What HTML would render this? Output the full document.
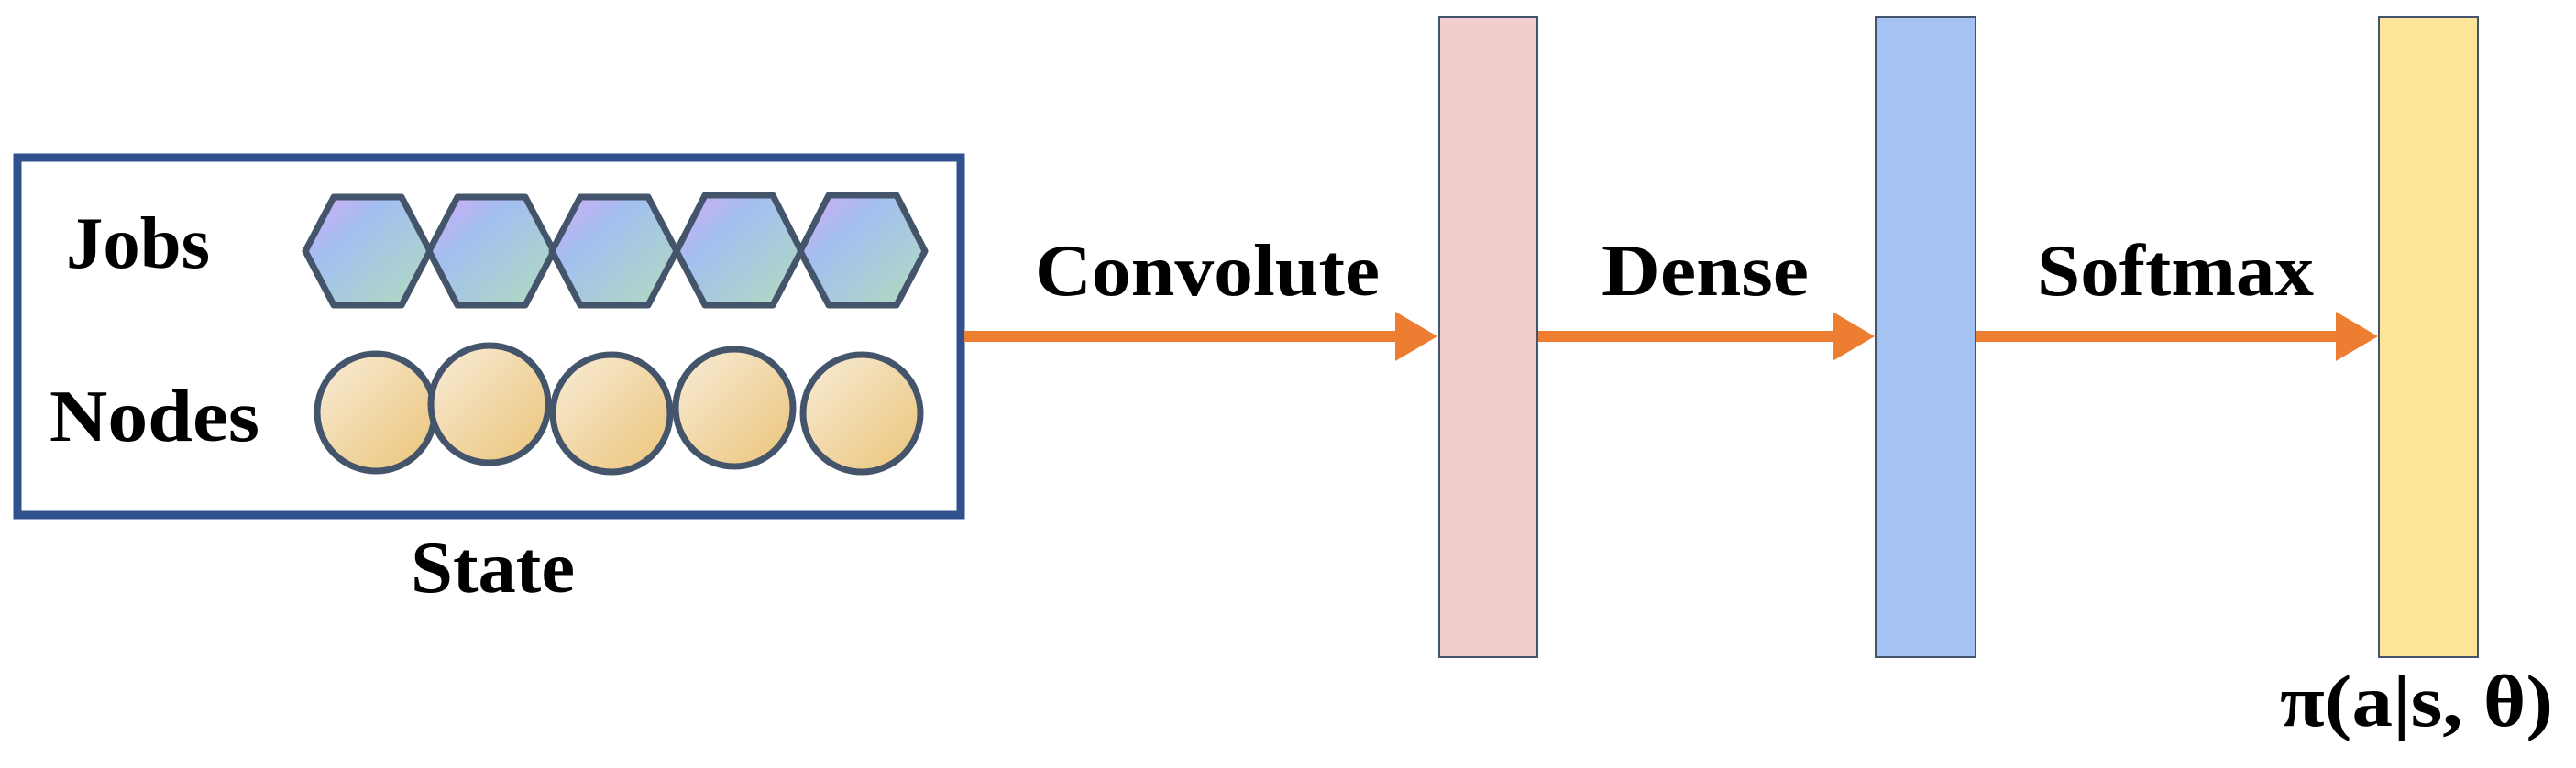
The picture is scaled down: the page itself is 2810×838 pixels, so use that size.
<!DOCTYPE html>
<html><head><meta charset="utf-8"><style>html,body{margin:0;padding:0;background:#fff}svg{display:block}
.t{font-family:"Liberation Serif","DejaVu Serif",serif;font-weight:bold;font-size:80px;fill:#000}</style></head>
<body>
<svg width="2810" height="838" viewBox="0 0 2810 838" xmlns="http://www.w3.org/2000/svg">
<defs>
<linearGradient id="hg" x1="0" y1="0" x2="1" y2="1">
<stop offset="0" stop-color="#d4a8f4"/><stop offset="0.35" stop-color="#a2bff0"/><stop offset="1" stop-color="#b2dcbc"/>
</linearGradient>
<linearGradient id="eg" x1="0" y1="0" x2="1" y2="1">
<stop offset="0" stop-color="#f8ecd8"/><stop offset="1" stop-color="#ebc478"/>
</linearGradient>
</defs>
<rect x="19" y="172" width="1029" height="390" fill="#fff" stroke="#2f528f" stroke-width="9"/>
<g fill="url(#hg)" stroke="#44546a" stroke-width="7" stroke-linejoin="round">
<polygon points="333,274 364,215 438,215 469,274 438,333 364,333"/>
<polygon points="468,274 499,215 573,215 604,274 573,333 499,333"/>
<polygon points="602,274 633,215 707,215 738,274 707,333 633,333"/>
<polygon points="738,274 769,213 843,213 874,274 843,333 769,333"/>
<polygon points="873,274 904,213 978,213 1009,274 978,333 904,333"/>
</g>
<g fill="url(#eg)" stroke="#44546a" stroke-width="7">
<ellipse cx="410" cy="450" rx="64" ry="64"/>
<ellipse cx="534" cy="441" rx="64" ry="64"/>
<ellipse cx="667" cy="451" rx="64" ry="64"/>
<ellipse cx="801" cy="445" rx="64" ry="64"/>
<ellipse cx="940" cy="451" rx="64" ry="64"/>
</g>
<g class="t">
<text x="72" y="292" textLength="157" lengthAdjust="spacingAndGlyphs">Jobs</text>
<text x="54" y="481" textLength="229" lengthAdjust="spacingAndGlyphs">Nodes</text>
<text x="448" y="646" textLength="179" lengthAdjust="spacingAndGlyphs">State</text>
<text x="1129" y="322" textLength="376" lengthAdjust="spacingAndGlyphs">Convolute</text>
<text x="1747" y="322" textLength="226" lengthAdjust="spacingAndGlyphs">Dense</text>
<text x="2222" y="322" textLength="302" lengthAdjust="spacingAndGlyphs">Softmax</text>
<text x="2487" y="792" textLength="298" lengthAdjust="spacingAndGlyphs">π(a|s, θ)</text>
</g>
<g fill="#ed7d31">
<rect x="1052" y="361" width="474" height="12"/><polygon points="1522,340 1568,367 1522,394"/>
<rect x="1678" y="361" width="324" height="12"/><polygon points="1999,340 2045,367 1999,394"/>
<rect x="2156" y="361" width="394" height="12"/><polygon points="2548,340 2594,367 2548,394"/>
</g>
<rect x="1570" y="19" width="107" height="698" fill="#f2cdcd" stroke="#44546a" stroke-width="2"/>
<rect x="2046" y="19" width="109" height="698" fill="#a4c2f2" stroke="#44546a" stroke-width="2"/>
<rect x="2595" y="19" width="108" height="698" fill="#fee599" stroke="#44546a" stroke-width="2"/>
</svg>
</body></html>
